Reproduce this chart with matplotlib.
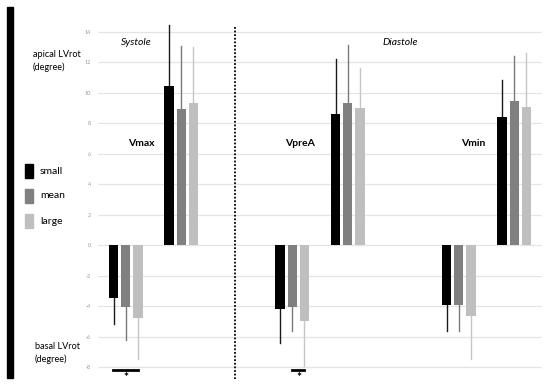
import matplotlib
matplotlib.use("Agg")
import matplotlib.pyplot as plt
from matplotlib.patches import Rectangle

plt.rcParams["font.family"] = ["Lato", "DejaVu Sans"]

# slots 0..7, slots 2 and 5 left empty (gap between phases)
positions = [0, 1, 3, 4, 6, 7]
groups = ["Vmax", "VpreA", "Vmin"]
series = ["small", "mean", "large"]

# bar heights per slot (basal negative, apical positive)
small_vals = [-3.47, 10.4, -4.19, 8.6, -3.95, 8.4]
mean_vals = [-4.08, 8.9, -4.06, 9.3, -3.95, 9.43]
large_vals = [-4.76, 9.3, -4.98, 9.0, -4.63, 9.03]

# one-sided error (outward from zero)
small_err = [1.73, 4.05, 2.26, 3.6, 1.71, 2.4]
mean_err = [2.17, 4.15, 1.6, 3.8, 1.71, 2.94]
large_err = [2.72, 3.68, 2.98, 2.6, 2.87, 3.57]

yticks = [-8, -6, -4, -2, 0, 2, 4, 6, 8, 10, 12, 14]

bar_colors = ["#000000", "#808080", "#bfbfbf"]
err_colors = ["#1a1a1a", "#7a7a7a", "#c6c6c6"]

fig = plt.figure(figsize=(5.5, 3.87), dpi=100)
ax = fig.add_axes([98 / 550, 0.0121, 444 / 550, 0.9656])

offsets = [-0.22, 0.0, 0.22]
width = 0.17
all_vals = [small_vals, mean_vals, large_vals]
all_err = [small_err, mean_err, large_err]
for k in range(3):
    xs = [p + offsets[k] for p in positions]
    ax.bar(xs, all_vals[k], width=width, color=bar_colors[k], zorder=3)
    for x, v, e in zip(xs, all_vals[k], all_err[k]):
        sign = 1 if v > 0 else -1
        ax.plot([x, x], [v, v + sign * e], color=err_colors[k], lw=1.0,
                zorder=2, clip_on=False)

ax.set_xlim(-0.5, 7.5)
ax.set_ylim(-9, 15.5)
ax.set_yticks(yticks)
ax.set_yticklabels([str(t) for t in yticks], fontsize=4, color="#999999")
ax.tick_params(axis="y", length=0, pad=5)
ax.set_xticks([])
ax.yaxis.grid(True, color="#e4e4e4", lw=0.9)
ax.set_axisbelow(True)
for s in ax.spines.values():
    s.set_visible(False)

# phase separator
ax.plot([1.97, 1.97], [14.3, -8.8], color="black", lw=1.3, ls=(0, (1, 1)),
        clip_on=False)

ax.text(0.185, 13.25, "Systole", style="italic", fontsize=7.5,
        ha="center", va="center")
ax.text(4.94, 13.25, "Diastole", style="italic", fontsize=7.5,
        ha="center", va="center")
label_x = [0.275, 3.14, 6.27]
for name, x in zip(groups, label_x):
    ax.text(x, 6.69, name, fontweight="bold", fontsize=7.5,
            ha="center", va="center")

# significance marks
ax.plot([-0.23, 0.22], [-8.2, -8.2], color="black", lw=2, clip_on=False)
ax.text(0.0, -8.3, "*", fontsize=8.5, fontweight="bold", ha="center",
        va="top", clip_on=False)
ax.plot([3.0, 3.21], [-8.2, -8.2], color="black", lw=2, clip_on=False)
ax.text(3.12, -8.3, "*", fontsize=8.5, fontweight="bold", ha="center",
        va="top", clip_on=False)

# thick bar on left edge
fig.add_artist(Rectangle((7 / 550, 1 - 378 / 387), 6 / 550, 371 / 387,
                         transform=fig.transFigure, color="black"))

fig.text(33 / 550, 1 - 61 / 387, "apical LVrot\n(degree)", fontsize=6.6,
         ha="left", va="center", linespacing=1.45)
fig.text(35 / 550, 1 - 353 / 387, "basal LVrot\n(degree)", fontsize=6.6,
         ha="left", va="center", linespacing=1.45)

legend_y = [171, 196, 221]
for lab, c, py in zip(series, bar_colors, legend_y):
    fig.add_artist(Rectangle((25 / 550, 1 - (py + 7) / 387), 8 / 550, 14 / 387,
                             transform=fig.transFigure, color=c))
    fig.text(40 / 550, 1 - py / 387, lab, fontsize=7.5, ha="left", va="center")

fig.savefig("out.png", dpi=100)
